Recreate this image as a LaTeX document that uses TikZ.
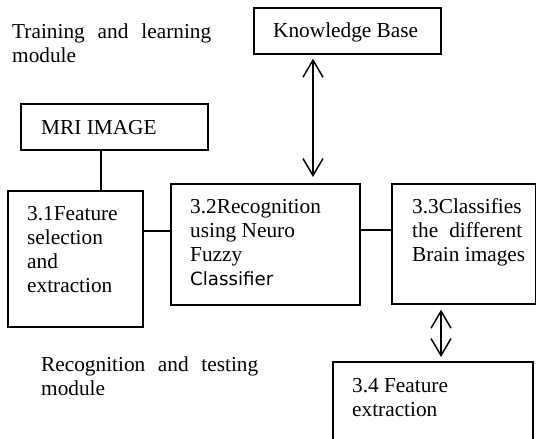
\documentclass[tikz,border=0pt]{standalone}
\usepackage{fontspec}
\setmainfont{Liberation Serif}
\newfontfamily\sansfont{DejaVu Sans}
\usetikzlibrary{arrows.meta,calc}
\begin{document}
\begin{tikzpicture}[x=1pt,y=-1pt,
  box/.style={draw, line width=1.7pt, rectangle, inner sep=0pt, anchor=north west},
  txt/.style={anchor=base west, inner sep=0pt, font=\fontsize{21.3}{24.3}\selectfont},
  link/.style={line width=1.7pt},
  barb/.tip={Straight Barb[length=17pt,width=20pt]},
  dbl/.style={line width=1.5pt, barb-barb}]
\useasboundingbox (0,0) rectangle (536,439);
\clip (0,0) rectangle (536,439);

% boxes
\node[box, minimum width=187pt, minimum height=46pt]  (kb)  at (253,7)   {};
\node[box, minimum width=187pt, minimum height=46pt]  (mri) at (20,103)  {};
\node[box, minimum width=135pt, minimum height=136pt] (fe)  at (7,190)   {};
\node[box, minimum width=189pt, minimum height=121pt] (rec) at (170,183) {};
\node[box, minimum width=144pt, minimum height=120pt] (cls) at (391,183) {};
\node[box, minimum width=200pt, minimum height=100pt] (fx)  at (332,361) {};

% texts
\node[txt] (ttrain) at (12,38) {\parbox[t]{205pt}{\makebox[199pt][s]{Training and learning}\\module}};
\node[txt] (tmri) at (41,134) {MRI IMAGE};
\node[txt] (tkb) at (273,37) {Knowledge Base};
\node[txt] (tfe) at (27,220) {\parbox[t]{110pt}{3.1Feature\\selection\\and\\extraction}};
\node[txt] (trec) at (190,213) {\parbox[t]{160pt}{3.2Recognition\\using Neuro\\Fuzzy\\{\sansfont\fontsize{18.2}{24.3}\selectfont Classifier}}};
\node[txt] (tcls) at (412,213) {\parbox[t]{120pt}{3.3Classifies\\\makebox[110pt][s]{the different}\\Brain images}};
\node[txt] (ttest) at (41,371) {\parbox[t]{225pt}{\makebox[217pt][s]{Recognition and testing}\\module}};
\node[txt] (tfx) at (352,392) {\parbox[t]{160pt}{3.4 Feature\\extraction}};

% connectors
\coordinate (kbx) at (313,0);
\draw[dbl, shorten <=4pt, shorten >=6pt] (kbx |- kb.south) -- (kbx |- rec.north);
\coordinate (mrix) at (101,0);
\draw[link] (mrix |- mri.south) -- (mrix |- fe.north);
\coordinate (ly1) at (0,231);
\draw[link] (ly1 -| fe.east) -- (ly1 -| rec.west);
\coordinate (ly2) at (0,230);
\draw[link] (ly2 -| rec.east) -- (ly2 -| cls.west);
\coordinate (clsx) at (441,0);
\draw[dbl, shorten <=5pt, shorten >=4pt] (clsx |- cls.south) -- (clsx |- fx.north);
\end{tikzpicture}
\end{document}
